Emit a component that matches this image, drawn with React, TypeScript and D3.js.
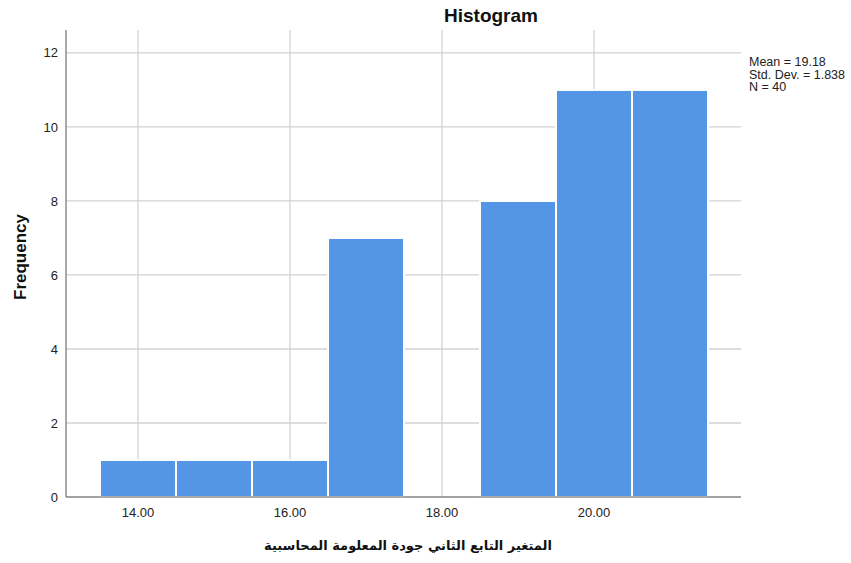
import React from "react";
import * as d3 from "d3";

const binCenters = [14, 15, 16, 17, 18, 19, 20, 21];
const frequencies = [1, 1, 1, 7, 0, 8, 11, 11];
const xTicks = [14, 16, 18, 20];
const yTicks = [0, 2, 4, 6, 8, 10, 12];
const statLines = ["Mean = 19.18", "Std. Dev. = 1.838", "N = 40"];
const title = "Histogram";
const xTitle = "المتغير التابع الثاني جودة المعلومة المحاسبية";
const yTitle = "Frequency";

export default function App() {
  const W = 851, H = 563;
  const left = 66, right = 741, top = 30, bottom = 497;
  const x = d3.scaleLinear().domain([13.066, 21.934]).range([left + 1, right]);
  const y = d3.scaleLinear().domain([0, 12.62]).range([bottom, top]);
  const font = "'Liberation Sans', Arial, sans-serif";
  return (
    <svg width={W} height={H} style={{ position: "absolute", left: 0, top: 0 }}>
      <rect width={W} height={H} fill="#fff" />
      {yTicks.map((t) => (
        <line key={"gy" + t} x1={left} x2={right} y1={y(t)} y2={y(t)} stroke="#d2d2d2" strokeWidth={1.3} />
      ))}
      {xTicks.map((t) => (
        <line key={"gx" + t} x1={x(t)} x2={x(t)} y1={top} y2={bottom} stroke="#d2d2d2" strokeWidth={1.3} />
      ))}
      {binCenters.map((c, i) =>
        frequencies[i] > 0 ? (
          <rect
            key={"b" + i}
            x={x(c - 0.5)}
            y={y(frequencies[i])}
            width={x(c + 0.5) - x(c - 0.5)}
            height={y(0) - y(frequencies[i])}
            fill="#5595e5"
            stroke="#fff"
            strokeWidth={2}
          />
        ) : null
      )}
      <line x1={left} x2={left} y1={top} y2={bottom} stroke="#8c8c8c" strokeWidth={1.5} />
      <line x1={left} x2={right} y1={bottom} y2={bottom} stroke="#8c8c8c" strokeWidth={1.5} />
      {yTicks.map((t) => (
        <text key={"ty" + t} x={58} y={y(t)} dy="0.35em" textAnchor="end" fontSize={13} fontFamily={font} fill="#222">
          {t}
        </text>
      ))}
      {xTicks.map((t) => (
        <text key={"tx" + t} x={x(t)} y={512} dy="0.35em" textAnchor="middle" fontSize={13} fontFamily={font} fill="#222">
          {t.toFixed(2)}
        </text>
      ))}
      <text x={491} y={15} dy="0.35em" textAnchor="middle" fontSize={19} fontWeight="bold" fontFamily={font} fill="#111">
        {title}
      </text>
      <text
        transform={`translate(20,257) rotate(-90)`}
        dy="0.35em"
        textAnchor="middle"
        fontSize={17}
        fontWeight="bold"
        fontFamily={font}
        fill="#111"
      >
        {yTitle}
      </text>
      <text x={408} y={545} dy="0.35em" textAnchor="middle" fontSize={13} fontWeight="bold" fontFamily="'DejaVu Sans', 'Noto Sans', sans-serif" fill="#111" direction="rtl">
        {xTitle}
      </text>
      {statLines.map((s, i) => (
        <text key={"s" + i} x={749} y={62 + i * 12.5} dy="0.35em" fontSize={12.5} fontFamily={font} fill="#222">
          {s}
        </text>
      ))}
    </svg>
  );
}
